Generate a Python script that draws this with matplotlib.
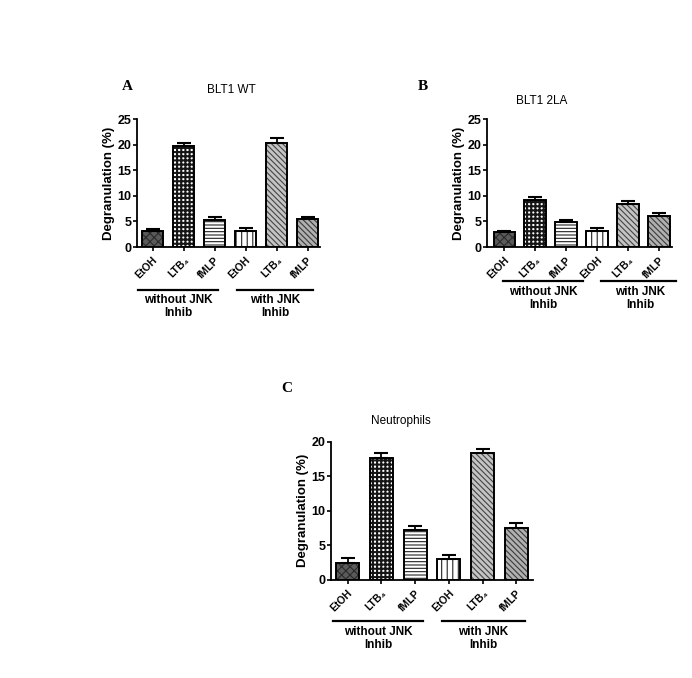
import matplotlib
matplotlib.use("Agg")
import matplotlib.pyplot as plt
from matplotlib.lines import Line2D

plt.rcParams['font.family'] = ['Liberation Sans', 'DejaVu Sans']
plt.rcParams['hatch.linewidth'] = 0.8

categories = ["EtOH", "LTB₄", "fMLP", "EtOH", "LTB₄", "fMLP"]
group_labels = ["without JNK\nInhib", "with JNK\nInhib"]

a_values = [3.2, 19.8, 5.3, 3.05, 20.3, 5.4]
a_errors = [0.4, 0.6, 0.6, 0.6, 1.0, 0.5]
b_values = [2.85, 9.2, 4.8, 3.2, 8.45, 6.1]
b_errors = [0.25, 0.5, 0.5, 0.5, 0.6, 0.5]
c_values = [2.5, 17.7, 7.25, 3.0, 18.4, 7.5]
c_errors = [0.65, 0.6, 0.55, 0.55, 0.55, 0.75]

styles = [
    dict(fc='#5a5a5a', hc='#2a2a2a', hatch='xxxx', hlw=0.8),
    dict(fc='white', hc='#151515', hatch='++++', hlw=1.5),
    dict(fc='white', hc='#222222', hatch='-----', hlw=0.8),
    dict(fc='white', hc='#222222', hatch='|||', hlw=0.8),
    dict(fc='#c4c4c4', hc='#444444', hatch='\\\\\\\\\\\\', hlw=0.8),
    dict(fc='#b0b0b0', hc='#3a3a3a', hatch='\\\\\\\\\\\\', hlw=0.8),
]

W, H = 692, 678
fig = plt.figure(figsize=(W / 100, H / 100), dpi=100)


def fx(px):
    return px / W


def fy(py):
    return 1 - py / H


def panel(rect, values, errors, ymax, yticks, letter, letter_xy, title, title_xy,
          xlim, lines, texts_xy):
    ax = fig.add_axes(rect)
    x = list(range(len(values)))
    for i, (v, e) in enumerate(zip(values, errors)):
        s = styles[i]
        with plt.rc_context({'hatch.linewidth': s['hlw']}):
            bars = ax.bar(i, v, width=0.68, color=s['fc'], edgecolor=s['hc'],
                          hatch=s['hatch'], linewidth=0, zorder=2)
        for p in bars:
            if hasattr(p, 'set_hatch_linewidth'):
                p.set_hatch_linewidth(s['hlw'])
        ax.bar(i, v, width=0.68, fill=False, edgecolor='black', linewidth=1.4, zorder=3)
        ax.errorbar(i, v, yerr=[[0], [e]], fmt='none', ecolor='black', elinewidth=1.3,
                    capsize=5, capthick=1.5, zorder=4)
    ax.set_xlim(*xlim)
    ax.set_ylim(0, ymax)
    ax.set_yticks(yticks)
    ax.set_xticks(x)
    ax.set_xticklabels(categories, rotation=45, ha='right', rotation_mode='anchor',
                       fontsize=7.5, fontweight='bold')
    for lab in ax.get_yticklabels():
        lab.set_fontweight('bold')
        lab.set_fontsize(9)
    ax.tick_params(axis='both', length=3, width=1.2, pad=1)
    ax.tick_params(axis='x', pad=3)
    for sp in ['top', 'right']:
        ax.spines[sp].set_visible(False)
    for sp in ['left', 'bottom']:
        ax.spines[sp].set_linewidth(1.3)
    ax.set_ylabel("Degranulation (%)", fontsize=9.5, fontweight='bold', labelpad=2)
    fig.text(fx(letter_xy[0]), fy(letter_xy[1]), letter, fontsize=11, fontweight='bold',
             family='Liberation Serif', ha='center', va='center')
    fig.text(fx(title_xy[0]), fy(title_xy[1]), title, fontsize=8.5, ha='center', va='center')
    for (x0, x1, y), (tx, ty), lab in zip(lines, texts_xy, group_labels):
        fig.add_artist(Line2D([fx(x0), fx(x1)], [fy(y), fy(y)], color='black', lw=1.6,
                              transform=fig.transFigure))
        fig.text(fx(tx), fy(ty), lab, fontsize=8.5, fontweight='bold', ha='center', va='top',
                 linespacing=1.15)
    return ax


panel([fx(137), fy(247), fx(320) - fx(137), fy(119) - fy(247)], a_values, a_errors,
      25, [0, 5, 10, 15, 20, 25], "A", (127, 86), "BLT1 WT", (231, 90),
      (-0.5, 5.4), [(138, 218, 290), (237, 313, 290)], [(178, 294), (275, 294)])

panel([fx(487), fy(247), fx(672) - fx(487), fy(119) - fy(247)], b_values, b_errors,
      25, [0, 5, 10, 15, 20, 25], "B", (423, 86), "BLT1 2LA", (542, 101),
      (-0.55, 5.42), [(503, 583, 281), (601, 676, 281)], [(543, 286), (640, 286)])

panel([fx(331), fy(580), fx(533) - fx(331), fy(441.7) - fy(580)], c_values, c_errors,
      20, [0, 5, 10, 15, 20], "C", (287, 389), "Neutrophils", (401, 421),
      (-0.49, 5.49), [(333, 423, 621), (442, 525, 621)], [(378, 626), (483, 626)])

fig.savefig("out.png", dpi=100, facecolor='white')
